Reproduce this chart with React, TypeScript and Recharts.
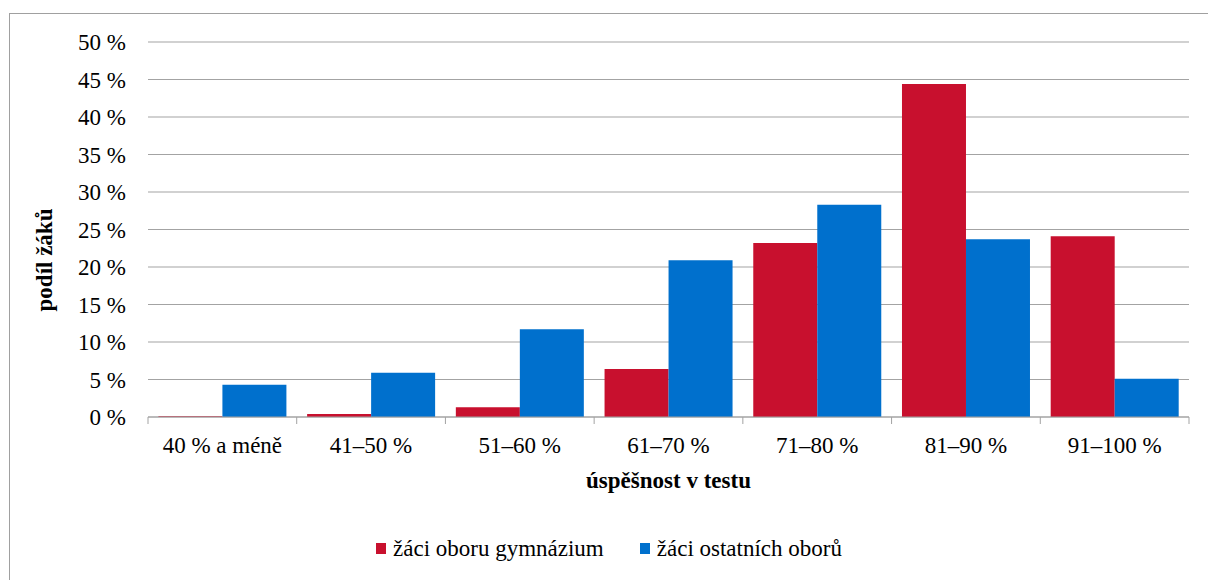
import React from "react";
import { Bar, BarChart, CartesianGrid, Legend, XAxis, YAxis } from "recharts";

const categories = ["40 % a méně", "41–50 %", "51–60 %", "61–70 %", "71–80 %", "81–90 %", "91–100 %"];
const gymnazium = [0.1, 0.4, 1.3, 6.4, 23.2, 44.4, 24.1];
const ostatni = [4.3, 5.9, 11.7, 20.9, 28.3, 23.7, 5.1];
const yTicks = [0, 5, 10, 15, 20, 25, 30, 35, 40, 45, 50];

const seriesNames = { gym: "žáci oboru gymnázium", ost: "žáci ostatních oborů" };
const RED = "#C8102E";
const BLUE = "#0070CD";
const GRID = "#a3a3a3";
const FONT = "'Liberation Serif', 'Times New Roman', serif";

const W = 1208;
const H = 580;
const margin = { top: 42, right: 19, bottom: 0, left: 0 };
const Y_AXIS_W = 148;
const PLOT_W = W - margin.left - margin.right - Y_AXIS_W;
const BAND = PLOT_W / categories.length;

const data = categories.map((c, i) => ({ cat: c, gym: gymnazium[i], ost: ostatni[i] }));

function XTick(props: any) {
  const { x, y, payload, index } = props;
  const left = x - BAND / 2;
  return (
    <g>
      <line x1={left} y1={y} x2={left} y2={y + 7} stroke={GRID} />
      {index === categories.length - 1 && (
        <line x1={x + BAND / 2} y1={y} x2={x + BAND / 2} y2={y + 7} stroke={GRID} />
      )}
      <text x={x} y={y + 36} textAnchor="middle" fill="#000" fontSize={23} fontFamily={FONT}>
        {payload.value}
      </text>
    </g>
  );
}

function XLabel(props: any) {
  const vb = props.viewBox;
  return (
    <text x={vb.x + vb.width / 2} y={vb.y + 71} textAnchor="middle" fontWeight="bold" fontSize={23} fontFamily={FONT} fill="#000">
      úspěšnost v testu
    </text>
  );
}

function YLabel() {
  return (
    <text x={52} y={260} transform="rotate(-90, 52, 260)" textAnchor="middle" fontWeight="bold" fontSize={23} fontFamily={FONT} fill="#000">
      podíl žáků
    </text>
  );
}

function LegendBox() {
  const items = [
    { name: seriesNames.gym, color: RED },
    { name: seriesNames.ost, color: BLUE },
  ];
  return (
    <div style={{ height: 63, width: W, boxSizing: "border-box", paddingLeft: 10, display: "flex", justifyContent: "center", alignItems: "center", gap: 36, fontFamily: FONT, fontSize: 23, color: "#000" }}>
      {items.map((it) => (
        <div key={it.name} style={{ display: "flex", alignItems: "center" }}>
          <span style={{ width: 10, height: 11, background: it.color, marginRight: 7, display: "inline-block" }} />
          <span>{it.name}</span>
        </div>
      ))}
    </div>
  );
}

export default function App() {
  return (
    <div style={{ position: "absolute", left: 0, top: 0, width: W, height: H, overflow: "hidden", background: "#fff", fontFamily: FONT }}>
      <div style={{ position: "absolute", left: 9, top: 13, width: 1300, height: 700, border: "1px solid #a0a0a0" }} />
      <div style={{ position: "absolute", left: 0, top: 0 }}>
        <BarChart width={W} height={H} data={data} margin={margin} barCategoryGap="7%" barGap={0}>
          <CartesianGrid horizontal vertical={false} stroke={GRID} />
          <XAxis
            dataKey="cat"
            height={100}
            tick={<XTick />}
            tickLine={false}
            tickSize={0}
            tickMargin={0}
            axisLine={{ stroke: GRID }}
            interval={0}
            label={<XLabel />}
          />
          <YAxis
            width={Y_AXIS_W}
            domain={[0, 50]}
            ticks={yTicks}
            tickFormatter={(v: number) => `${v} %`}
            tick={{ fill: "#000", fontSize: 23, fontFamily: FONT }}
            tickLine={false}
            axisLine={false}
            tickSize={6}
            tickMargin={16}
            label={<YLabel />}
          />
          <Legend verticalAlign="bottom" wrapperStyle={{ left: 0, width: W }} content={<LegendBox />} />
          <Bar dataKey="gym" name={seriesNames.gym} fill={RED} isAnimationActive={false} />
          <Bar dataKey="ost" name={seriesNames.ost} fill={BLUE} isAnimationActive={false} />
        </BarChart>
      </div>
    </div>
  );
}
